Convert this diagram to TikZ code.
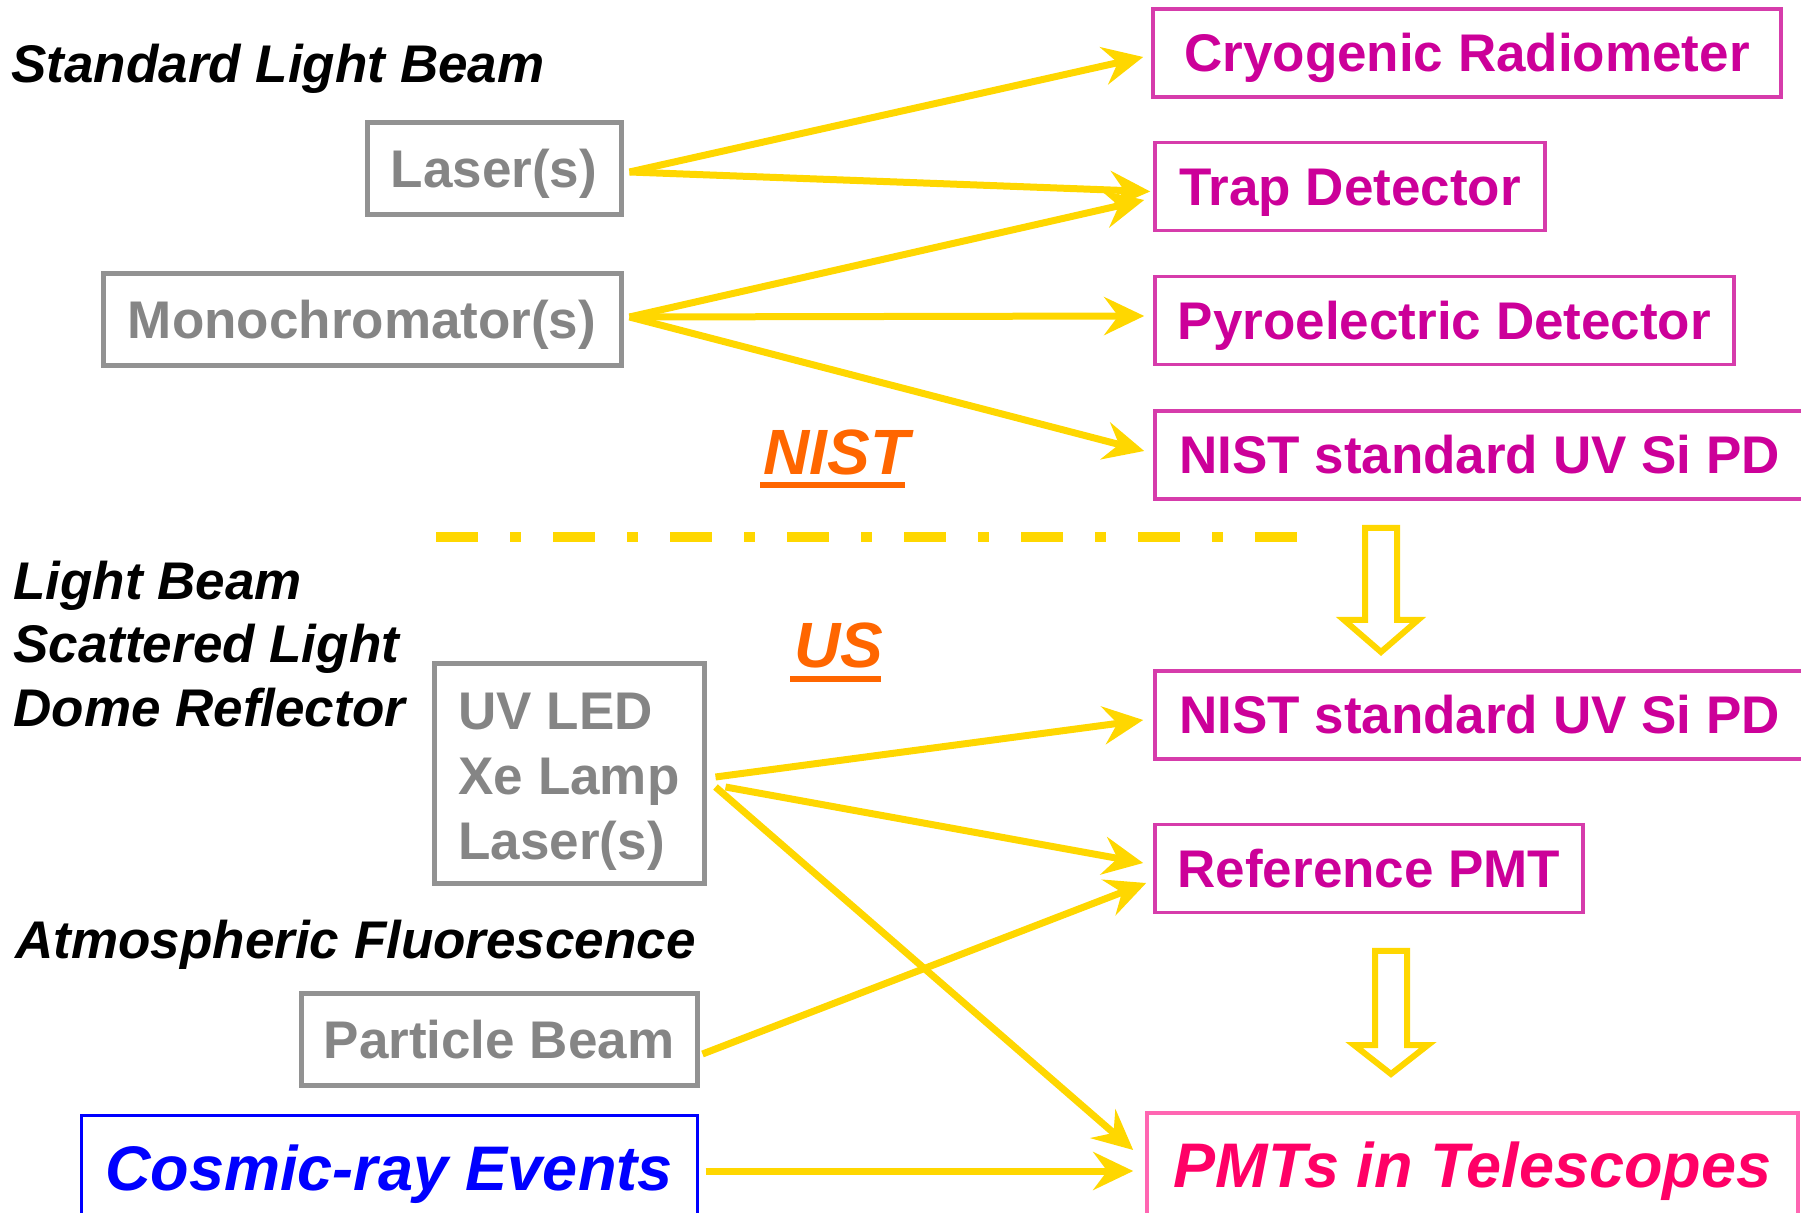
\documentclass[tikz,border=0pt]{standalone}
\usepackage{fontspec}
\setmainfont{Liberation Sans}
\usetikzlibrary{arrows.meta,calc}
\newcommand{\FS}{\fontsize{26.5}{32.5}\selectfont}
\newcommand{\FL}{\fontsize{31.5}{38}\selectfont}
% hollow down arrow: x, top, head, tip
\newcommand{\blockarrow}[4]{%
  \draw[cGold, line width=3pt, fill=white, line join=miter]
    (#1-16,#2) -- (#1+16,#2) -- (#1+16,#3) -- (#1+37,#3) -- (#1,#4)
    -- (#1-37,#3) -- (#1-16,#3) -- cycle;}

\begin{document}
\begin{tikzpicture}[x=0.5pt,y=-0.5pt,
  >={Stealth[length=20pt,width=19pt,inset=7pt]},
  src/.style={draw=cGreyBox, line width=2.5pt, text=cGrey, font=\bfseries\FS,
    inner xsep=8pt, minimum height=46pt, text height=19pt, text depth=0pt},
  det/.style={draw=cMagBox, line width=1.8pt, text=cMag, font=\bfseries\FS,
    inner xsep=8pt, minimum height=44pt, text height=19pt, text depth=0pt},
  lbl/.style={anchor=base west, inner sep=0pt, font=\bfseries\itshape\FS},
  tag/.style={anchor=base west, inner sep=0pt, text=cOrange,
    font=\bfseries\itshape\fontsize{32}{38}\selectfont},
  beam/.style={->, cGold, line width=3.5pt}]

% colors
\definecolor{cGold}{HTML}{FFD700}
\definecolor{cMag}{HTML}{CC0099}
\definecolor{cMagBox}{HTML}{D63CAB}
\definecolor{cGrey}{HTML}{858585}
\definecolor{cGreyBox}{HTML}{929292}
\definecolor{cPink}{HTML}{FF0066}
\definecolor{cPinkBox}{HTML}{FF66B2}
\definecolor{cBlue}{HTML}{0000FF}
\definecolor{cOrange}{HTML}{FF6600}

\useasboundingbox (0,0) rectangle (1801,1213);

% left hand labels
\node[lbl] (stdlab) at (11,83) {Standard Light Beam};
\node[lbl] (lblab) at (13,600) {Light Beam};
\node[lbl] (sclab) at (13,663) {Scattered Light};
\node[lbl] (drlab) at (13,727) {Dome Reflector};
\node[lbl] (aflab) at (15,958) {Atmospheric Fluorescence};

% light sources
\node[src, minimum width=127pt] (laser) at (494,169) {Laser(s)};
\node[src, minimum width=259pt] (mono) at (362,320) {Monochromator(s)};
\node[src, minimum width=135pt, minimum height=110pt, align=left,
  text height=, text depth=] (uvsrc) at (569,774)
  {\rule{0pt}{26pt}UV LED\\Xe Lamp\\Laser(s)};
\node[src, minimum width=198pt] (pbeam) at (499,1039.5) {Particle Beam};
\node[draw=cBlue, line width=1.5pt, text=cBlue, font=\bfseries\itshape\FL,
  minimum width=308pt, minimum height=52pt, text height=22.5pt, text depth=0pt]
  (cosmic) at (389,1167.5) {Cosmic-ray Events};

% detectors
\node[det, minimum width=314pt] (cryo) at (1467,53) {Cryogenic Radiometer};
\node[det, minimum width=195pt] (trap) at (1350,186.5) {Trap Detector};
\node[det, minimum width=289.5pt] (pyro) at (1444.5,320.5) {Pyroelectric Detector};
\node[det, minimum width=324.5pt] (nistA) at (1479.5,455) {NIST standard UV Si PD};
\node[det, minimum width=324.5pt] (nistB) at (1479.5,715) {NIST standard UV Si PD};
\node[det, minimum width=214pt] (refpmt) at (1369,868.5) {Reference PMT};
\node[draw=cPinkBox, line width=1.8pt, text=cPink, font=\bfseries\itshape\FL,
  minimum width=325.5pt, minimum height=52pt, text height=22.5pt, text depth=0pt]
  (pmts) at (1472.5,1165) {PMTs in Telescopes};

% NIST / US split
\node[tag] (nistlab) at (763,475) {NIST};
\draw[cOrange, line width=3pt] ($(nistlab.base west)+(-3,10)$) -- ($(nistlab.base east)+(-5,10)$);
\node[tag] (uslab) at (794,668) {US};
\draw[cOrange, line width=3pt] ($(uslab.base west)+(-4,11)$) -- ($(uslab.base east)+(-3,11)$);
\draw[cGold, line width=5pt, dash pattern=on 21pt off 16pt on 5.5pt off 16pt]
  (436,537) -- (1299,537);

% beams
\draw[beam] ($(laser.east)+(6,3)$) -- ($(cryo.west)+(-8,4)$);
\draw[beam] ($(laser.east)+(6,3)$) -- ($(trap.west)+(-3,5)$);
\draw[beam] ($(mono.east)+(6,-3)$) -- ($(trap.west)+(-9,13.5)$);
\draw[beam] ($(mono.east)+(6,-3)$) -- ($(pyro.west)+(-9,-4.5)$);
\draw[beam] ($(mono.east)+(6,-3)$) -- ($(nistA.west)+(-9,-4)$);
\draw[beam] ($(uvsrc.east)+(9,3)$) -- ($(nistB.west)+(-10,5)$);
\draw[beam] ($(uvsrc.east)+(19,13)$) -- ($(refpmt.west)+(-10,-5.5)$);
\draw[beam] ($(uvsrc.east)+(9,13)$) -- ($(pmts.west)+(-12,-15)$);
\draw[beam] ($(pbeam.east)+(3,14.5)$) -- ($(refpmt.west)+(-7,14.5)$);
\draw[beam] ($(cosmic.east)+(7,3.5)$) -- ($(pmts.west)+(-12,6)$);

% transfer arrows
\blockarrow{1381}{528}{620}{652}
\blockarrow{1391}{951}{1045}{1074}

\end{tikzpicture}
\end{document}
